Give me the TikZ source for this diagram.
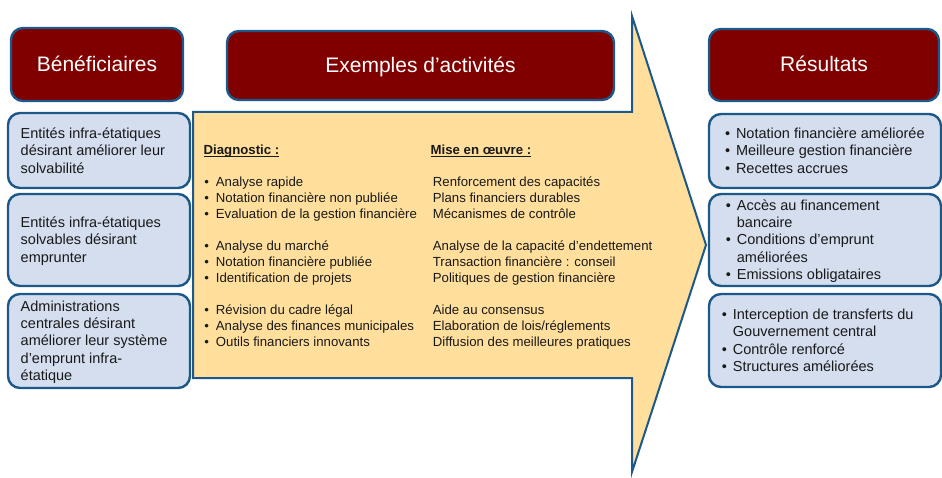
\documentclass[tikz,border=0pt]{standalone}
\usepackage{fontspec}
\setmainfont{Liberation Sans}
\definecolor{hdrred}{HTML}{800000}
\definecolor{edgeblue}{HTML}{1C588A}
\definecolor{paleblue}{HTML}{D4DEEE}
\definecolor{arrowfill}{HTML}{FFDF9B}
\newcommand\midbul{\makebox[11.5pt][l]{•}}
\newcommand\rbul{\makebox[11pt][l]{•}}
\newcommand\rind{\hspace*{11pt}}
\newcommand\myul[1]{\setbox0\hbox{#1}\rlap{\rule[-2.2pt]{\wd0}{0.9pt}}\box0}
\tikzset{
  hdrbox/.style={draw=edgeblue, line width=2.4pt, fill=hdrred, rounded corners=12pt,
    text=white, font=\fontsize{21}{25}\selectfont, text height=14pt, text depth=0pt, inner sep=0pt},
  pbox/.style={draw=edgeblue, line width=2.4pt, fill=paleblue, rounded corners=12pt, inner sep=0pt},
  boxtext/.style={align=left, font=\fontsize{14.5}{17.4}\selectfont, inner sep=0pt, anchor=west, text=black!90},
  coltext/.style={align=left, font=\fontsize{13.2}{16}\selectfont, inner sep=0pt, anchor=west, text=black!90},
  arrowshape/.style={draw=edgeblue, line width=2pt, fill=arrowfill},
}
\begin{document}
\begin{tikzpicture}[x=1pt,y=-1pt]
\useasboundingbox (0,0) rectangle (942,478);
% big arrow
\draw[arrowshape] (193,112) -- (632,112) -- (632,16) -- (706,245) -- (632,472) -- (632,378) -- (193,378) -- cycle;
% headers
\node[hdrbox, minimum width=172pt, minimum height=73pt] (hb) at (97,64.5) {Bénéficiaires};
\node[hdrbox, minimum width=387pt, minimum height=69pt] (hm) at (420.5,65.5) {Exemples d’activités};
\node[hdrbox, minimum width=230pt, minimum height=72pt] (hr) at (824,65) {Résultats};
% left boxes
\node[pbox, minimum width=182pt, minimum height=75pt] (l1) at (99,150.5) {};
\node[pbox, minimum width=182pt, minimum height=92pt] (l2) at (99,240) {};
\node[pbox, minimum width=182pt, minimum height=94pt] (l3) at (99,341) {};
\node[boxtext] (l1t) at ([xshift=13.7pt,yshift=-1.7pt]l1.west) {\strut Entités infra-étatiques\\désirant améliorer leur\\solvabilité\strut};
\node[boxtext] (l2t) at ([xshift=13.7pt,yshift=-1.5pt]l2.west) {\strut Entités infra-étatiques\\solvables désirant\\emprunter\strut};
\node[boxtext] (l3t) at ([xshift=13.7pt,yshift=-1.5pt]l3.west) {\strut Administrations\\centrales désirant\\améliorer leur système\\d’emprunt infra-\\étatique\strut};
% right boxes
\node[pbox, minimum width=232pt, minimum height=74pt] (r1) at (825,151) {};
\node[pbox, minimum width=232pt, minimum height=92pt] (r2) at (825,240) {};
\node[pbox, minimum width=232pt, minimum height=93pt] (r3) at (825,340.5) {};
\node[boxtext] (r1t) at ([xshift=17pt,yshift=-1.4pt]r1.west) {\strut\rbul Notation financière améliorée\\\rbul Meilleure gestion financière\\\rbul Recettes accrues\strut};
\node[boxtext] (r2t) at ([xshift=17.9pt,yshift=-1.4pt]r2.west) {\strut\rbul Accès au financement\\\rind bancaire\\\rbul Conditions d’emprunt\\\rind améliorées\\\rbul Emissions obligataires\strut};
\node[boxtext] (r3t) at ([xshift=13.9pt,yshift=-1.4pt]r3.west) {\strut\rbul Interception de transferts du\\\rind Gouvernement central\\\rbul Contrôle renforcé\\\rbul Structures améliorées\strut};
% middle column headings
\node[coltext, font=\fontsize{13.2}{16}\selectfont\bfseries] (dh) at (203.5,151.8) {\strut\myul{Diagnostic :}};
\node[coltext, font=\fontsize{13.2}{16}\selectfont\bfseries] (mh) at (430.5,151.8) {\strut\myul{Mise en œuvre :}};
% middle columns
\node[coltext] (dc) at (204.2,262.8) {\strut\midbul Analyse rapide\\\midbul Notation financière non publiée\\\midbul Evaluation de la gestion financière\\[16pt]\midbul Analyse du marché\\\midbul Notation financière publiée\\\midbul Identification de projets\\[16pt]\midbul Révision du cadre légal\\\midbul Analyse des finances municipales\\\midbul Outils financiers innovants\strut};
\node[coltext] (mc) at (432.7,262.8) {\strut Renforcement des capacités\\Plans financiers durables\\Mécanismes de contrôle\\[16pt]Analyse de la capacité d'endettement\\Transaction financière : conseil\\Politiques de gestion financière\\[16pt]Aide au consensus\\Elaboration de lois/réglements\\Diffusion des meilleures pratiques\strut};
\end{tikzpicture}
\end{document}
